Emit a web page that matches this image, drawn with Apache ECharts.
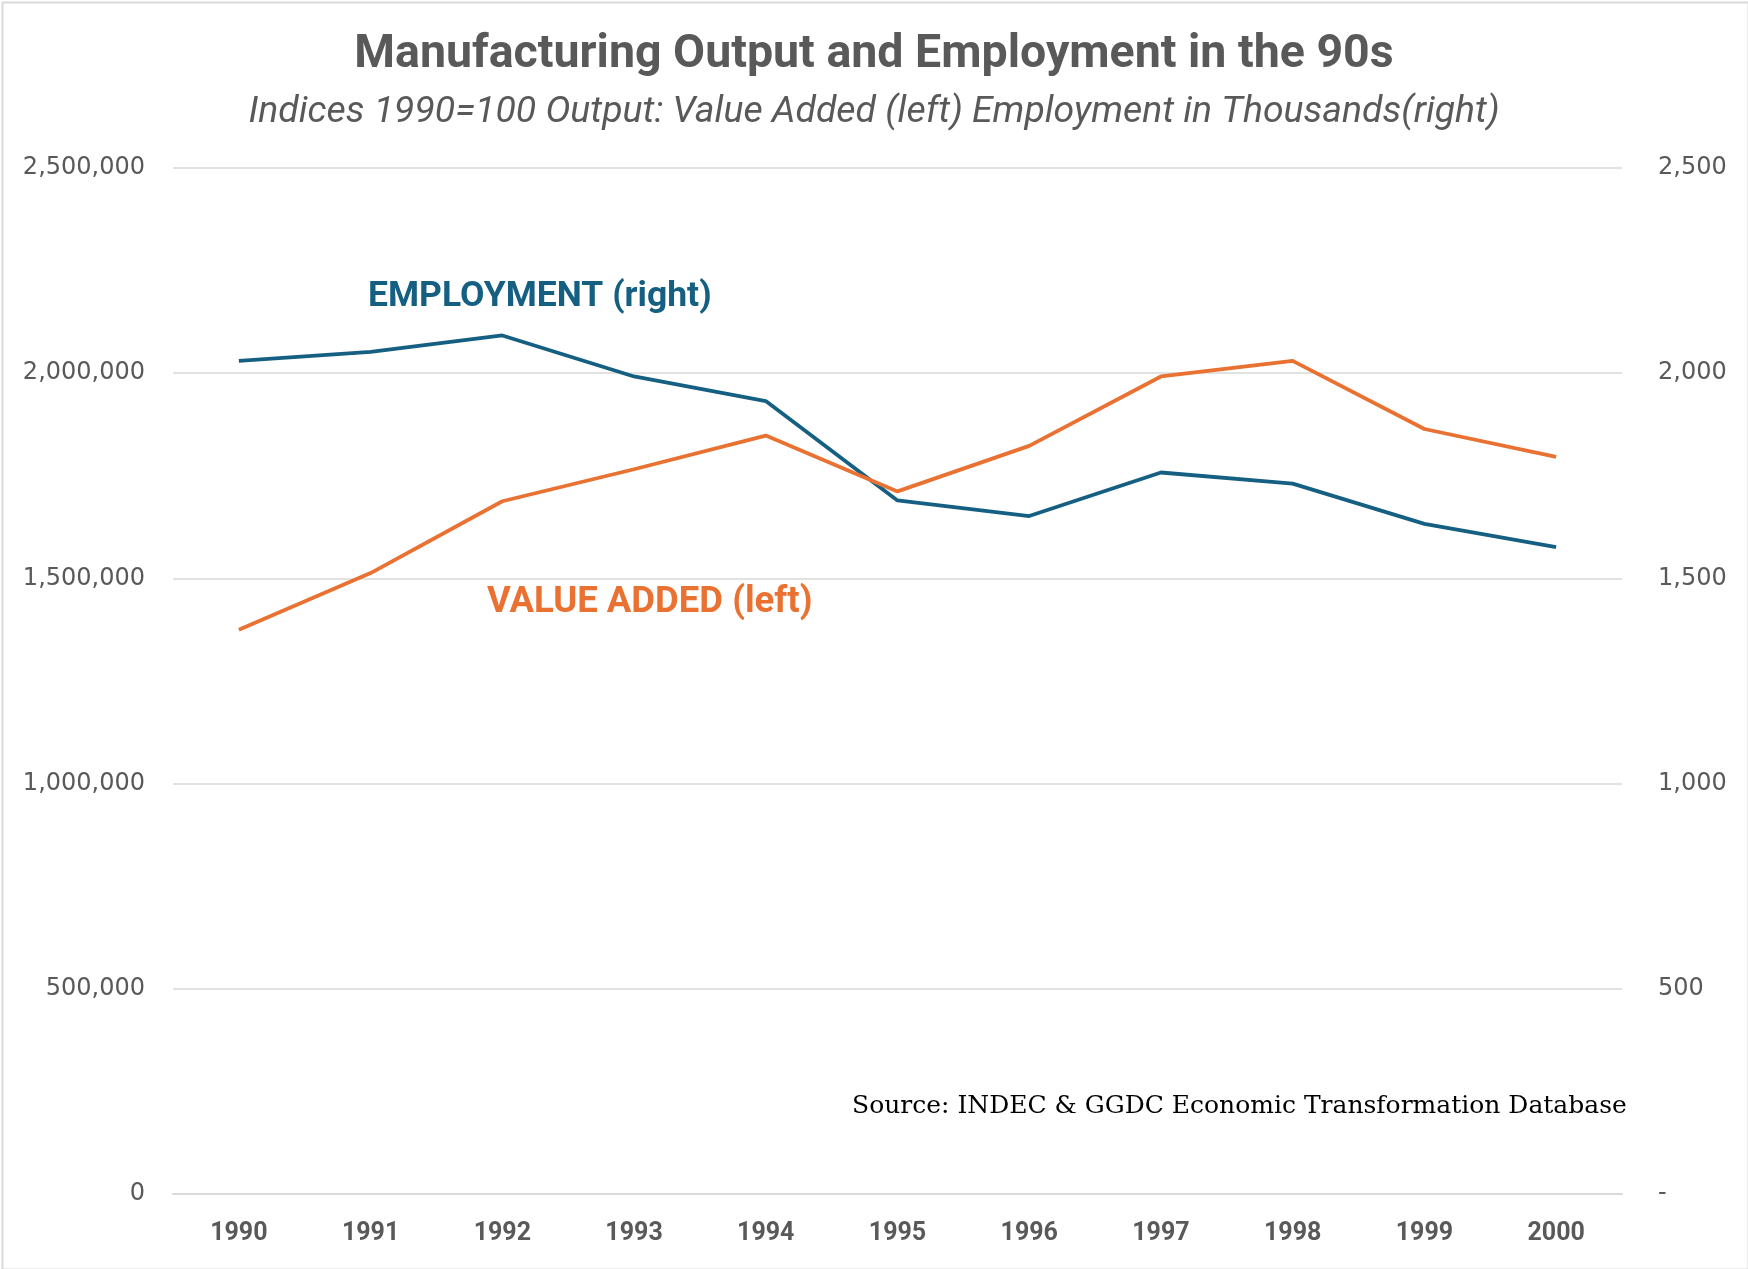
<!DOCTYPE html>
<html><head><meta charset="utf-8">
<script src="https://cdn.jsdelivr.net/npm/echarts@6/dist/echarts.min.js"></script>
<style>html,body{margin:0;padding:0;background:#fff}#c{width:1748px;height:1269px}</style>
</head><body><div id="c"></div>
<script>
const years = ['1990','1991','1992','1993','1994','1995','1996','1997','1998','1999','2000'];
const valueAdded = [1375000,1513000,1688000,1766000,1848000,1712000,1823000,1992000,2030000,1864000,1796000];
const employment = [2030,2052,2092,1992,1932,1690,1652,1758,1731,1633,1576];
const leftTicks = [0,500000,1000000,1500000,2000000,2500000];
const rightTicks = [0,500,1000,1500,2000,2500];

const sans = 'Roboto, "Noto Sans", sans-serif';
const axisFont = '"DejaVu Sans", Verdana, sans-serif';
const chart = echarts.init(document.getElementById('c'));
chart.setOption({
  backgroundColor:'#fff',
  animation:false,
  title:[{
    text:'Manufacturing Output and Employment in the 90s',
    left:'center', top:27,
    textStyle:{fontFamily:sans,fontWeight:'bold',fontSize:46.5,color:'#595959'}
  },{
    text:'Indices 1990=100 Output: Value Added (left) Employment in Thousands(right)',
    left:'center', top:89,
    textStyle:{fontFamily:sans,fontStyle:'italic',fontWeight:'normal',fontSize:37.4,color:'#595959'}
  }],
  grid:{left:173,right:126,top:168,bottom:75,containLabel:false},
  xAxis:{type:'category',data:years,boundaryGap:true,
    axisLine:{lineStyle:{color:'#d9d9d9',width:2}},axisTick:{show:false},
    axisLabel:{margin:27,fontFamily:sans,fontWeight:'bold',fontSize:25,color:'#595959'}},
  yAxis:[{type:'value',min:0,max:2500000,interval:500000,position:'left',
    axisLine:{show:false},axisTick:{show:false},
    splitLine:{lineStyle:{color:'#d9d9d9',width:1.5}},
    axisLabel:{margin:28,fontFamily:axisFont,fontSize:24,color:'#595959',
      formatter:v=>v.toLocaleString('en-US')}},
   {type:'value',min:0,max:2500,interval:500,position:'right',
    axisLine:{show:false},axisTick:{show:false},splitLine:{show:false},
    axisLabel:{margin:36,fontFamily:axisFont,fontSize:24,color:'#595959',
      formatter:v=>v===0?'-':v.toLocaleString('en-US')}}],
  series:[
    {name:'Employment',type:'line',yAxisIndex:1,data:employment,symbol:'none',
     lineStyle:{color:'#156082',width:3.8},itemStyle:{color:'#156082'}},
    {name:'Value Added',type:'line',yAxisIndex:0,data:valueAdded,symbol:'none',
     lineStyle:{color:'#E97132',width:3.8},itemStyle:{color:'#E97132'}}
  ],
  graphic:[
    {type:'rect',left:0,top:0,shape:{x:1,y:1,width:1746,height:1267},style:{fill:'none',stroke:'#d9d9d9',lineWidth:2},silent:true},
    {type:'text',left:368,top:279,style:{text:'EMPLOYMENT (right)',font:'bold 35.5px '+sans,fill:'#156082'}},
    {type:'text',left:487,top:584,style:{text:'VALUE ADDED (left)',font:'bold 36.5px '+sans,fill:'#E97132'}},
    {type:'text',left:852,top:1094,style:{text:'Source: INDEC & GGDC Economic Transformation Database',font:'25px "DejaVu Serif", "Liberation Serif", serif',fill:'#000'}}
  ]
});
</script></body></html>
